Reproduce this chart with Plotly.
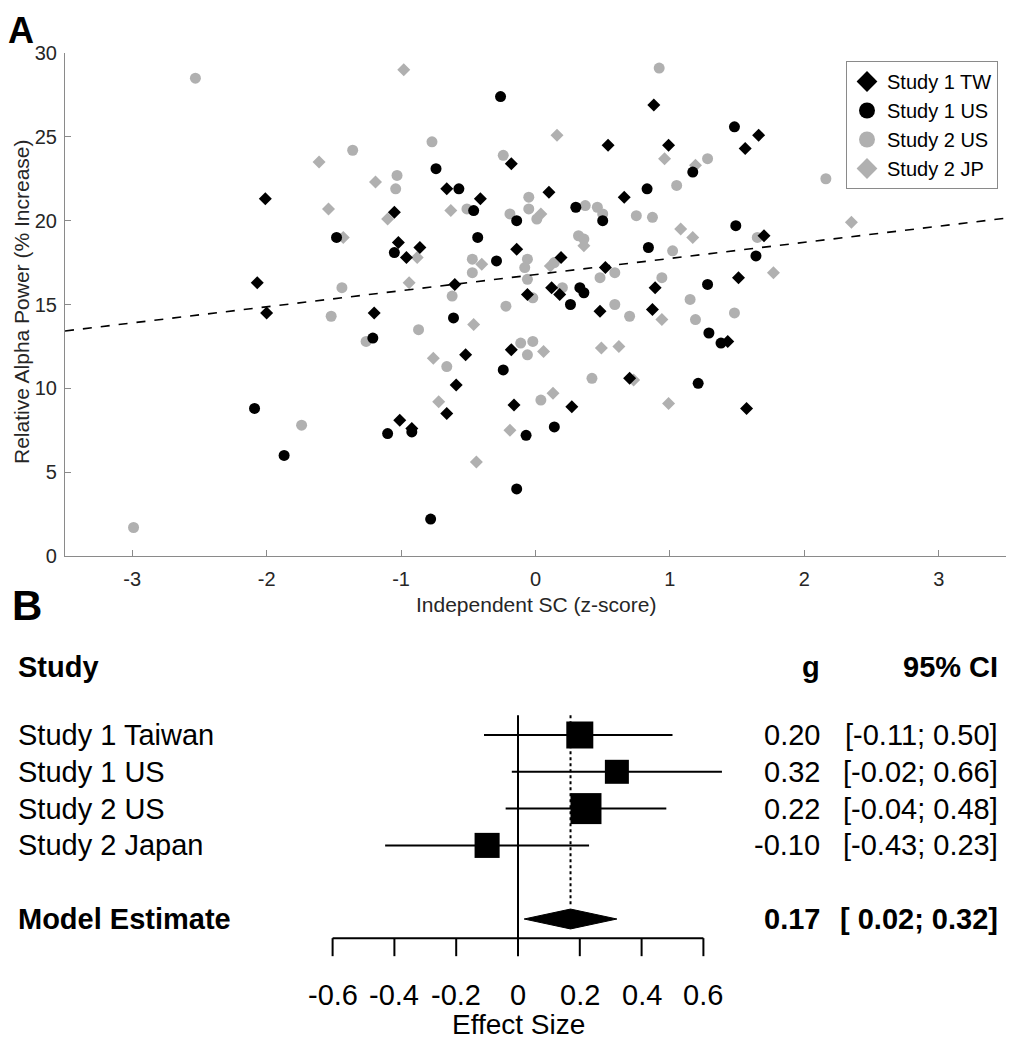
import plotly.graph_objects as go

# ---------- Panel A data ----------
tw_x = [-2.01, -2.07, -2.00, -1.05, -1.02, -0.96, -0.86, -0.66, -0.41, -0.60, -0.18, -0.14,
        -1.20, -0.52, -0.59, -0.66, -1.01, -0.92, -0.18, -0.16, -0.06, 0.10, 0.88, 0.54,
        0.99, 1.66, 1.56, 0.66, 1.70, 0.19, 0.12, 0.18, 0.52, 1.51, 0.89, 0.48, 0.87,
        1.43, 0.70, 0.27, 1.57]
tw_y = [21.3, 16.3, 14.5, 20.5, 18.7, 17.8, 18.4, 21.9, 21.3, 16.2, 23.4, 18.3,
        14.5, 12.0, 10.2, 8.5, 8.1, 7.6, 12.3, 9.0, 15.6, 21.7, 26.9, 24.5,
        24.5, 25.1, 24.3, 21.4, 19.1, 17.8, 16.0, 15.6, 17.2, 16.6, 16.0, 14.6, 14.7,
        12.8, 10.6, 8.9, 8.8]

us1_x = [-2.09, -1.87, -1.48, -1.05, -0.74, -0.57, -0.46, -0.43, -0.29, -0.26, -0.14, -1.21,
         -0.61, -1.10, -0.92, -0.78, -0.24, -0.14, -0.07, 1.48, 1.17, 0.83, 0.30, 0.50,
         1.49, 1.64, 0.84, 0.33, 0.36, 0.26, 1.28, 1.29, 1.38, 1.21, 0.14]
us1_y = [8.8, 6.0, 19.0, 18.1, 23.1, 21.9, 20.6, 19.0, 17.6, 27.4, 20.0, 13.0,
         14.2, 7.3, 7.4, 2.2, 11.1, 4.0, 7.2, 25.6, 22.9, 21.9, 20.8, 20.0,
         19.7, 17.9, 18.4, 16.0, 15.7, 15.0, 16.2, 13.3, 12.7, 10.3, 7.7]

us2_x = [-2.53, -1.74, -2.99, -1.44, -1.52, -1.36, -1.03, -1.04, -0.77, -0.51, -0.47, -0.47,
         -0.62, -0.24, -0.19, -1.26, -0.87, -0.22, -0.66, -0.11, -0.02, -0.06, 0.04, -0.05,
         -0.05, 0.01, -0.06, -0.08, -0.06, -0.02, 1.28, 1.05, 0.37, 0.46, 0.50, 0.75,
         0.87, 0.32, 0.36, 1.65, 1.02, 0.14, 0.59, 0.48, 0.94, 0.92, 2.16, 0.20,
         0.59, 0.70, 1.15, 1.19, 1.48, 0.42]
us2_y = [28.5, 7.8, 1.7, 16.0, 14.3, 24.2, 22.7, 21.9, 24.7, 20.7, 17.7, 16.9,
         15.5, 23.9, 20.4, 12.8, 13.5, 14.9, 11.3, 12.7, 12.8, 12.0, 9.3, 21.4,
         20.7, 20.1, 17.7, 17.2, 16.5, 15.4, 23.7, 22.1, 20.9, 20.8, 20.4, 20.3,
         20.2, 19.1, 18.9, 19.0, 18.2, 17.5, 16.9, 16.6, 16.6, 29.1, 22.5, 16.0,
         15.0, 14.3, 15.3, 14.1, 14.5, 10.6]

jp_x = [-1.61, -1.54, -0.98, -1.19, -1.43, -1.10, -0.88, -0.94, -0.63, -0.40, -0.46, -0.76,
        -0.72, -0.44, -0.19, 0.06, 0.04, 0.16, 0.96, 1.19, 0.36, 1.08, 1.17, 1.77,
        0.11, 2.35, 0.94, 0.49, 0.62, 0.73, 0.13, 0.99]
jp_y = [23.5, 20.7, 29.0, 22.3, 19.0, 20.1, 17.8, 16.3, 20.6, 17.4, 13.8, 11.8,
        9.2, 5.6, 7.5, 12.2, 20.4, 25.1, 23.7, 23.3, 18.5, 19.5, 19.0, 16.9,
        17.3, 19.9, 14.1, 12.4, 12.5, 10.5, 9.7, 9.1]

fit_x = [-3.5, 3.5]
fit_y = [13.42, 20.15]

x_ticks = [-3, -2, -1, 0, 1, 2, 3]
y_ticks = [0, 5, 10, 15, 20, 25, 30]

# ---------- Panel B data ----------
studies = ["Study 1 Taiwan", "Study 1 US", "Study 2 US", "Study 2 Japan"]
g_vals = [0.20, 0.32, 0.22, -0.10]
ci_lo = [-0.11, -0.02, -0.04, -0.43]
ci_hi = [0.50, 0.66, 0.48, 0.23]
weights = [25.2, 19.9, 33.2, 21.7]
model_g, model_lo, model_hi = 0.17, 0.02, 0.32
es_ticks = [-0.6, -0.4, -0.2, 0, 0.2, 0.4, 0.6]

# page body has an 8px margin, so the figure is a bit smaller than the window
OFF = 8
W, H = 1000, 1034
BLACK = "#000000"
GRAY = "#b0b0b0"
AXIS = "#8a8a8a"
TXT = "#262626"
FONT = "Liberation Sans, Arial, sans-serif"


def fx(p):
    # window pixel (from left) -> paper x
    return (p - OFF) / W


def fy(p):
    # window pixel (from top) -> paper y
    return 1 - (p - OFF) / H


# forest layout: rows are 36.8px apart, row 1 at window y=735, zero at window x=518
ROW0, ROWH = 735, 36.8
ZERO_X, XSCALE = 518, 309
B_TOP = 600


def row_at(p):
    return 1 + (p - ROW0) / ROWH


fig = go.Figure()

# scatter traces (gray first so black sits on top)
groups = [
    ("Study 2 US", us2_x, us2_y, "circle", GRAY, 11, 3),
    ("Study 2 JP", jp_x, jp_y, "diamond", GRAY, 10, 4),
    ("Study 1 US", us1_x, us1_y, "circle", BLACK, 11, 2),
    ("Study 1 TW", tw_x, tw_y, "diamond", BLACK, 10, 1),
]
for name, xs, ys, sym, col, sz, rank in groups:
    fig.add_trace(go.Scatter(
        x=xs, y=ys, mode="markers", name=name, showlegend=False,
        marker=dict(symbol=sym, color=col, size=sz, line=dict(width=0)),
        xaxis="x", yaxis="y"
    ))
    # bigger marker copy just for the legend
    fig.add_trace(go.Scatter(
        x=[None], y=[None], mode="markers", name=name, legendrank=rank,
        marker=dict(symbol=sym, color=col, size=16, line=dict(width=0)),
        xaxis="x", yaxis="y"
    ))

fig.add_trace(go.Scatter(
    x=fit_x, y=fit_y, mode="lines", showlegend=False,
    line=dict(color=BLACK, width=1.6, dash="dash"), xaxis="x", yaxis="y"
))

# ---------- forest plot ----------
rows = list(range(1, len(studies) + 1))
model_row = len(studies) + 2
axis_row = model_row + 0.52

ci_x, ci_y = [], []
for lo, hi, r in zip(ci_lo, ci_hi, rows):
    ci_x += [lo, hi, None]
    ci_y += [r, r, None]
fig.add_trace(go.Scatter(
    x=ci_x, y=ci_y, mode="lines", showlegend=False,
    line=dict(color=BLACK, width=2), xaxis="x2", yaxis="y2"
))
fig.add_trace(go.Scatter(
    x=g_vals, y=rows, mode="markers", showlegend=False,
    marker=dict(symbol="square", color=BLACK, opacity=1,
                size=[5.38 * w ** 0.5 for w in weights], line=dict(width=0)),
    xaxis="x2", yaxis="y2"
))
dh = 0.27
fig.add_trace(go.Scatter(
    x=[model_lo, model_g, model_hi, model_g, model_lo],
    y=[model_row, model_row - dh, model_row, model_row + dh, model_row],
    mode="lines", fill="toself", fillcolor=BLACK, showlegend=False,
    line=dict(color=BLACK, width=1), xaxis="x2", yaxis="y2"
))

shapes = [
    dict(type="line", xref="x2", yref="y2", x0=0, x1=0, y0=0.46, y1=axis_row,
         line=dict(color=BLACK, width=2)),
    dict(type="line", xref="x2", yref="y2", x0=model_g, x1=model_g, y0=0.46,
         y1=model_row - dh * 1.4, line=dict(color=BLACK, width=2, dash="dot")),
    dict(type="line", xref="x2", yref="y2", x0=es_ticks[0], x1=es_ticks[-1],
         y0=axis_row, y1=axis_row, line=dict(color=BLACK, width=2)),
]
for t in es_ticks:
    shapes.append(dict(type="line", xref="x2", yref="y2", x0=t, x1=t,
                       y0=axis_row, y1=axis_row + 0.49, line=dict(color=BLACK, width=2)))

ann = []
fs = 29
LX, GX, CX = fx(16), fx(822), fx(1000)

ann.append(dict(text="<b>Study</b>", x=LX, y=-0.85, xanchor="left"))
ann.append(dict(text="<b>g</b>", x=GX, y=-0.85, xanchor="right"))
ann.append(dict(text="<b>95% CI</b>", x=CX, y=-0.85, xanchor="right"))
for s, gv, lo, hi, r in zip(studies, g_vals, ci_lo, ci_hi, rows):
    ann.append(dict(text=s, x=LX, y=r, xanchor="left"))
    ann.append(dict(text=f"{gv:.2f}", x=GX, y=r, xanchor="right"))
    ann.append(dict(text=f"[{lo: .2f}; {hi:.2f}]", x=CX, y=r, xanchor="right"))
ann.append(dict(text="<b>Model Estimate</b>", x=LX, y=model_row, xanchor="left"))
ann.append(dict(text=f"<b>{model_g:.2f}</b>", x=GX, y=model_row, xanchor="right"))
ann.append(dict(text=f"<b>[{model_lo: .2f}; {model_hi:.2f}]</b>", x=CX, y=model_row,
                xanchor="right"))
for a in ann:
    a.update(xref="paper", yref="y2", yanchor="middle", showarrow=False,
             font=dict(size=fs, color=BLACK, family=FONT))

for t in es_ticks:
    ann.append(dict(text=f"{t:g}", x=t, y=axis_row + 1.55, xref="x2", yref="y2",
                    showarrow=False, font=dict(size=fs, color=BLACK, family=FONT)))
ann.append(dict(text="Effect Size", x=0, y=row_at(1024), xref="x2", yref="y2",
                showarrow=False, borderpad=0,
                font=dict(size=28, color=BLACK, family=FONT)))

# panel letters and panel A axis titles
ann += [
    dict(text="<b>A</b>", x=fx(7), y=fy(30), xref="paper", yref="paper",
         xanchor="left", yanchor="middle", showarrow=False, borderpad=0,
         font=dict(size=36, color=BLACK, family=FONT)),
    dict(text="<b>B</b>", x=fx(10), y=fy(605), xref="paper", yref="paper",
         xanchor="left", yanchor="middle", showarrow=False,
         font=dict(size=42, color=BLACK, family=FONT)),
    dict(text="Relative Alpha Power (% Increase)", x=fx(21), y=fy(302),
         xref="paper", yref="paper", textangle=-90, xanchor="center", yanchor="middle",
         showarrow=False, font=dict(size=21, color=TXT, family=FONT)),
    dict(text="Independent SC (z-score)", x=0, y=fy(604), xref="x", yref="paper",
         xanchor="center", yanchor="middle", showarrow=False,
         font=dict(size=21, color=TXT, family=FONT)),
]

fig.update_layout(
    width=W, height=H,
    margin=dict(l=0, r=0, t=0, b=0, pad=0),
    paper_bgcolor="white", plot_bgcolor="rgba(0,0,0,0)",
    font=dict(family=FONT, color=TXT),
    showlegend=True,
    legend=dict(x=fx(998), y=fy(61), xanchor="right", yanchor="top",
                bgcolor="white", bordercolor=AXIS, borderwidth=1,
                font=dict(size=20, color=BLACK, family=FONT),
                itemsizing="trace", tracegroupgap=0),
    xaxis=dict(domain=[fx(65), fx(1006)], range=[-3.5, 3.5], tickvals=x_ticks,
               ticktext=[f"{t}" for t in x_ticks],
               showline=True, linecolor=AXIS, linewidth=1.2, ticks="inside",
               ticklen=6, tickcolor=AXIS, showgrid=False, zeroline=False,
               tickfont=dict(size=20, color=TXT), ticklabelstandoff=5,
               anchor="y", automargin=False, fixedrange=True),
    yaxis=dict(domain=[fy(556), fy(53)], range=[0, 30], tickvals=y_ticks,
               ticktext=[f"{t}" for t in y_ticks],
               showline=True, linecolor=AXIS, linewidth=1.2, ticks="inside",
               ticklen=6, tickcolor=AXIS, showgrid=False, zeroline=False,
               tickfont=dict(size=20, color=TXT), ticklabelstandoff=3,
               anchor="x", automargin=False, fixedrange=True),
    xaxis2=dict(domain=[0, 1],
                range=[(OFF - ZERO_X) / XSCALE, (OFF + W - ZERO_X) / XSCALE],
                visible=False, anchor="y2", automargin=False),
    yaxis2=dict(domain=[0, fy(B_TOP)], range=[row_at(OFF + H), row_at(B_TOP)],
                visible=False, anchor="x2", automargin=False),
    shapes=shapes,
    annotations=ann,
)

fig.write_html("out.html")
